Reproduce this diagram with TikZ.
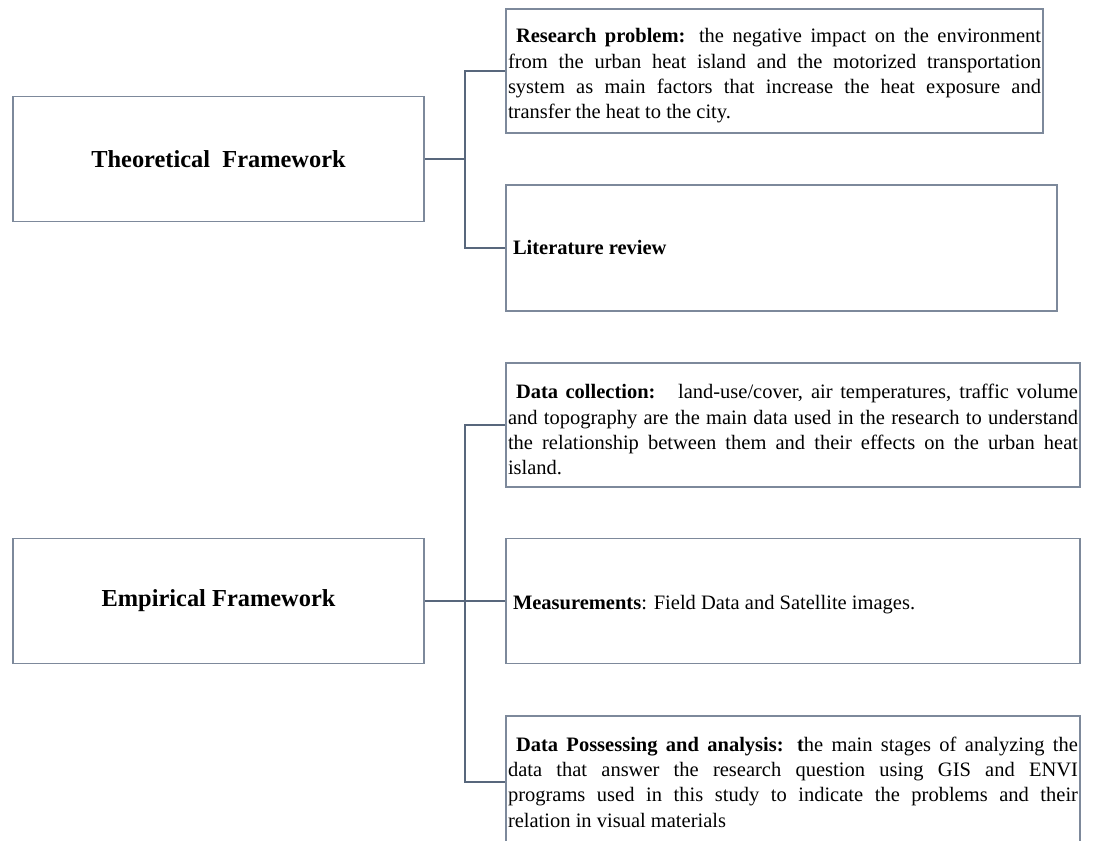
\documentclass[tikz,border=0pt]{standalone}
\usepackage{fontspec}
\setmainfont{Liberation Serif}
\usetikzlibrary{positioning}
\definecolor{boxgray}{RGB}{125,137,155}
\definecolor{linkgray}{RGB}{88,103,124}
\tolerance=10000
\hbadness=10000

\begin{document}
\begin{tikzpicture}[x=1pt,y=-1pt,
frame/.style={draw=boxgray,line width=1.6pt,minimum width=411pt,minimum height=125pt,font=\fontsize{24.4}{29}\selectfont\bfseries},
item/.style={draw=boxgray,line width=1.6pt,inner xsep=2pt,inner ysep=0pt,align=justify,font=\fontsize{20.5}{25.3}\selectfont},
link/.style={draw=linkgray,line width=1.8pt}]

\path[use as bounding box] (0,0) rectangle (1094,840);
\clip (0,0) rectangle (1094,840);

\node[frame] (theo) at (218.5,159) {Theoretical\ \ Framework};

\node[frame] (emp) at (218.5,601) {Empirical Framework};

\coordinate (spine) at (465,0);

\node[item,text width=533pt,minimum height=124pt] (prob) at (774.5,71) {\rule{0pt}{24pt}\hspace*{8pt}\textbf{Research problem:} the negative impact on the environment\linebreak from the urban heat island and the motorized transportation\linebreak system as main factors that increase the heat exposure and\linebreak transfer the heat to the city.};

\node[item,text width=547pt,minimum height=126pt] (lit) at (781.5,248) {\hspace*{5pt}\textbf{Literature review}};

\node[item,text width=570pt,minimum height=124pt] (coll) at (793,425) {\rule{0pt}{24pt}\hspace*{8pt}\textbf{Data collection:}\ \ \ land-use/cover, air temperatures, traffic volume\linebreak and topography are the main data used in the research to understand\linebreak the relationship between them and their effects on the urban heat\linebreak island.};

\node[item,text width=570pt,minimum height=125pt] (meas) at (793,601) {\rule{0pt}{21pt}\hspace*{5pt}\textbf{Measurements}: Field Data and Satellite images.};

\node[item,text width=570pt,minimum height=132pt] (proc) at (793,782) {\hspace*{8pt}\textbf{Data Possessing and analysis: t}he main stages of analyzing the\linebreak data that answer the research question using GIS and ENVI\linebreak programs used in this study to indicate the problems and their\linebreak relation in visual materials};

\draw[link] (theo.east) -- (theo.east -| spine);

\draw[link] (prob.west) -- (prob.west -| spine) |- (lit.west);

\draw[link] (emp.east) -- (meas.west);

\draw[link] (coll.west) -- (coll.west -| spine) |- (proc.west);

\end{tikzpicture}
\end{document}
